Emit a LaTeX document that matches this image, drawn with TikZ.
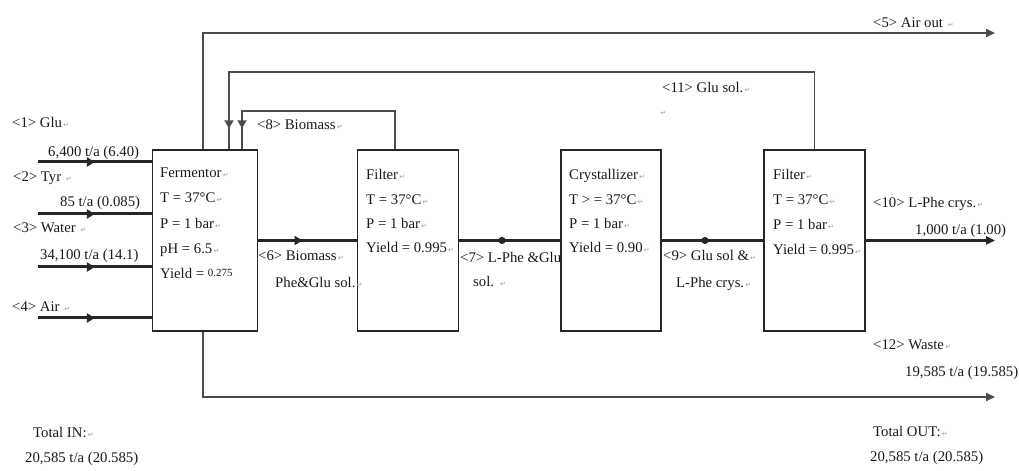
\documentclass[tikz,border=0pt]{standalone}
\usepackage{fontspec}
\setmainfont{Liberation Serif}
\newfontfamily\dejavu{DejaVu Sans}
\usetikzlibrary{arrows.meta,decorations.markings}
\newcommand{\retmark}{{\color{black!40}\dejavu\fontsize{7}{7}\selectfont\,↵}}
\begin{document}
\begin{tikzpicture}[x=1bp,y=-1bp,
  box/.style={draw=black!85, line width=1.4bp, minimum width=#1, minimum height=181bp, inner sep=0},
  txt/.style={font=\fontsize{14.8}{16}\selectfont, inner sep=0, anchor=base west, text=black!90},
  feed/.style={line width=3bp, draw=black!85},
  flow/.style={line width=3.6bp, draw=black!85},
  pipe/.style={line width=1.9bp, draw=black!70},
  midmark/.style={postaction={decorate}, decoration={markings, mark=at position #1 with {\arrow{Triangle[length=8bp,width=9bp]}}}},
  endtip/.style={-{Triangle[length=9bp,width=8bp]}}
]
\useasboundingbox (0,0) rectangle (1019,471);

% boxes
\node[box=105bp] (ferm) at (205,240.5) {};
\node[box=101bp] (f1) at (408,240.5) {};
\node[box=100bp] (cry) at (611,240.5) {};
\node[box=101bp] (f2) at (814.5,240.5) {};

% box texts
\node[txt] (fe1) at (160,178) {Fermentor\retmark};
\node[txt] (fe2) at (160,203) {T = 37°C\retmark};
\node[txt] (fe3) at (160,229) {P = 1 bar\retmark};
\node[txt] (fe4) at (160,254) {pH = 6.5\retmark};
\node[txt] (fe5) at (160,279) {Yield = \raisebox{2bp}{\fontsize{11}{11}\selectfont 0.275}};

\node[txt] (a1) at (366,180) {Filter\retmark};
\node[txt] (a2) at (366,204.5) {T = 37°C\retmark};
\node[txt] (a3) at (366,229) {P = 1 bar\retmark};
\node[txt] (a4) at (366,253) {Yield = 0.995\retmark};

\node[txt] (c1) at (569,180) {Crystallizer\retmark};
\node[txt] (c2) at (569,204.5) {T > = 37°C\retmark};
\node[txt] (c3) at (569,229) {P = 1 bar\retmark};
\node[txt] (c4) at (569,253) {Yield = 0.90\retmark};

\node[txt] (b1) at (773,180) {Filter\retmark};
\node[txt] (b2) at (773,205) {T = 37°C\retmark};
\node[txt] (b3) at (773,230) {P = 1 bar\retmark};
\node[txt] (b4) at (773,255) {Yield = 0.995\retmark};

% feeds
\coordinate (in1) at (38,162);
\coordinate (in2) at (38,214);
\coordinate (in3) at (38,267);
\coordinate (in4) at (38,318);
\draw[feed, midmark=0.5] (in1) -- (in1 -| ferm.west);
\draw[feed, midmark=0.5] (in2) -- (in2 -| ferm.west);
\draw[feed, midmark=0.5] (in3) -- (in3 -| ferm.west);
\draw[feed, midmark=0.5] (in4) -- (in4 -| ferm.west);

\node[txt] (l1) at (12,127.5) {<1> Glu\retmark};
\node[txt] (l1b) at (48,156.5) {6,400 t/a (6.40)};
\node[txt] (l2) at (13,181.5) {<2> Tyr \retmark};
\node[txt] (l2b) at (60,206.5) {85 t/a (0.085)};
\node[txt] (l3) at (13,232.5) {<3> Water \retmark};
\node[txt] (l3b) at (40,259.5) {34,100 t/a (14.1)};
\node[txt] (l4) at (12,311.5) {<4> Air \retmark};

% main flow
\coordinate (prod) at (995,240.5);
\draw[flow, midmark=0.45] (ferm.east) -- (f1.west);
\draw[flow] (f1.west -| f1.east) -- (cry.west);
\draw[flow] (cry.east) -- (f2.west);
\draw[flow, endtip] (f2.east) -- (prod);
\fill[black!85] (502,240.5) circle (3.6bp);
\fill[black!85] (705,240.5) circle (3.6bp);

\node[txt] (s6) at (258,260.5) {<6> Biomass\retmark};
\node[txt] (s6b) at (275,287.5) {Phe\&Glu sol.\retmark};
\node[txt] (s7) at (460,262.5) {<7> L-Phe \&Glu};
\node[txt] (s7b) at (473,287) {sol. \retmark};
\node[txt] (s9) at (663,260.5) {<9> Glu sol \&\retmark};
\node[txt] (s9b) at (676,287.5) {L-Phe crys.\retmark};
\node[txt] (s10) at (873,207.5) {<10> L-Phe crys.\retmark};
\node[txt] (s10b) at (915,234.5) {1,000 t/a (1.00)};

% air out
\coordinate (airend) at (995,33);
\draw[pipe, endtip] ([xshift=-2bp]ferm.north) |- (airend);
\node[txt] (s5) at (873,27.5) {<5> Air out \retmark};

% glu sol recycle
\coordinate (gluc) at (229,72);
\draw[pipe, midmark=-21bp] (f2.north) |- (gluc) -- (gluc |- ferm.north);
\node[txt] (s11) at (662,92.5) {<11> Glu sol.\retmark};
\node[inner sep=0] (s11b) at (663,113) {\retmark};

% biomass recycle
\coordinate (bioc) at (242,111);
\draw[pipe, midmark=-21bp] ([xshift=-13bp]f1.north) |- (bioc) -- (bioc |- ferm.north);
\node[txt] (s8) at (257,129.5) {<8> Biomass\retmark};

% waste
\coordinate (wasteend) at (995,397);
\draw[pipe, endtip] ([xshift=-2bp]ferm.south) |- (wasteend);
\node[txt] (s12) at (873,349.5) {<12> Waste\retmark};
\node[txt] (s12b) at (905,376.5) {19,585 t/a (19.585)};

% totals
\node[txt] (tin) at (33,437.5) {Total IN:\retmark};
\node[txt] (tinb) at (25,462.5) {20,585 t/a (20.585)};
\node[txt] (tout) at (873,436.5) {Total OUT:\retmark};
\node[txt] (toutb) at (870,461.5) {20,585 t/a (20.585)};
\end{tikzpicture}
\end{document}
